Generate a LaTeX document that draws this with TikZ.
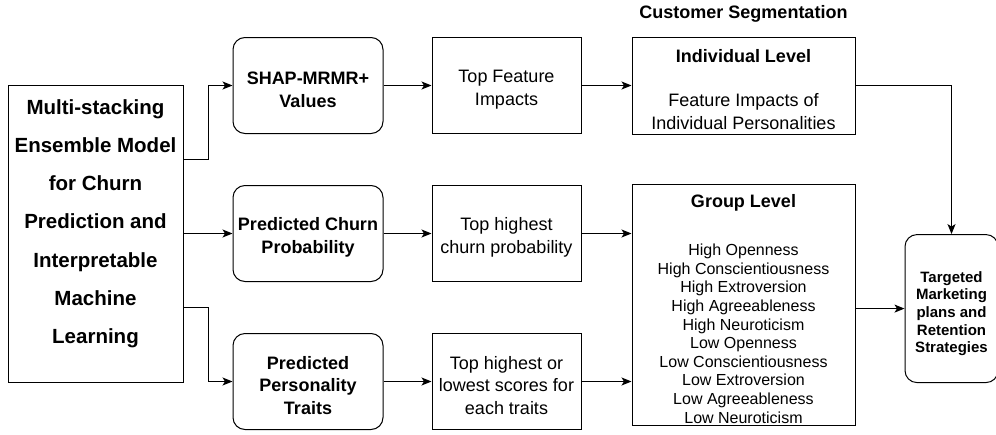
\documentclass[tikz,border=0pt]{standalone}
\usepackage{fontspec}
\setmainfont{Liberation Sans}
\usetikzlibrary{arrows.meta,positioning}

% taller first line, pushes the text a little down in its box
\newcommand{\lift}{\rule{0pt}{21pt}}

\begin{document}
\begin{tikzpicture}[
    node distance=51pt and 49pt,
    box/.style={draw, line width=1pt, align=center, inner sep=2pt, minimum height=96pt, font=\fontsize{18}{22.5}\selectfont},
    softbox/.style={box, rounded corners=12pt, font=\fontsize{18}{22.5}\selectfont\bfseries},
    arrow/.style={-{Stealth[length=10pt, width=8pt, inset=2.5pt]}, line width=1pt}
  ]
    \useasboundingbox (0,0) rectangle (996pt,-434pt);

    \node[box, minimum width=175pt, minimum height=297pt, font=\fontsize{20.5}{38.3}\selectfont\bfseries] (model) at (95.5pt,-233.5pt) {Multi-stacking\\Ensemble Model\\for Churn\\Prediction and\\Interpretable\\Machine\\Learning\rule[-24pt]{0pt}{0pt}};
    \node[softbox, minimum width=150pt, right=of model] (churn) {\lift Predicted Churn\\Probability};
    \node[softbox, minimum width=150pt, above=of churn] (shap) {\lift SHAP-MRMR+\\Values};
    \node[softbox, minimum width=150pt, below=of churn] (traits) {\lift Predicted\\Personality\\Traits};

    \node[box, minimum width=149pt, right=48pt of shap] (feat) {\lift Top Feature\\Impacts};
    \node[box, minimum width=149pt, right=48pt of churn] (high) {\lift Top highest\\churn probability};
    \node[box, minimum width=149pt, right=48pt of traits] (low) {\lift Top highest or\\lowest scores for\\each traits};

    \node[box, minimum width=223pt, minimum height=97pt, right=50pt of feat] (indiv) {\lift\textbf{Individual Level}\\[22pt]Feature Impacts of\\Individual Personalities};
    \node[above=11pt of indiv, font=\fontsize{18}{20}\selectfont\bfseries] (title) {Customer Segmentation};
    \node[box, minimum width=223pt, minimum height=240pt, below=49pt of indiv, font=\fontsize{16}{18.6}\selectfont] (group) {\lift{\fontsize{18}{18.6}\selectfont\bfseries Group Level}\\[30pt]High Openness\\High Conscientiousness\\High Extroversion\\High Agreeableness\\High Neuroticism\\Low Openness\\Low Conscientiousness\\Low Extroversion\\Low Agreeableness\\Low Neuroticism};
    \node[softbox, minimum width=93pt, minimum height=148pt, right=49pt of group, yshift=-4pt, font=\fontsize{15}{17.7}\selectfont\bfseries] (target) {\lift Targeted\\Marketing\\plans and\\Retention\\Strategies};

    \draw[arrow] ([yshift=74pt]model.east) -- ++(24.5pt,0) |- (shap.west);
    \draw[arrow] (model.east) -- (churn.west);
    \draw[arrow] ([yshift=-74pt]model.east) -- ++(24.5pt,0) |- (traits.west);
    \draw[arrow] (shap) -- (feat);
    \draw[arrow] (churn) -- (high);
    \draw[arrow] (traits) -- (low);
    \draw[arrow] (feat) -- (indiv);
    \draw[arrow] (high) -- (high -| group.west);
    \draw[arrow] (low) -- (low -| group.west);
    \draw[arrow] (indiv.east) -| (target.north);
    \draw[arrow] (target.west -| group.east) -- (target.west);
  \end{tikzpicture}
\end{document}
